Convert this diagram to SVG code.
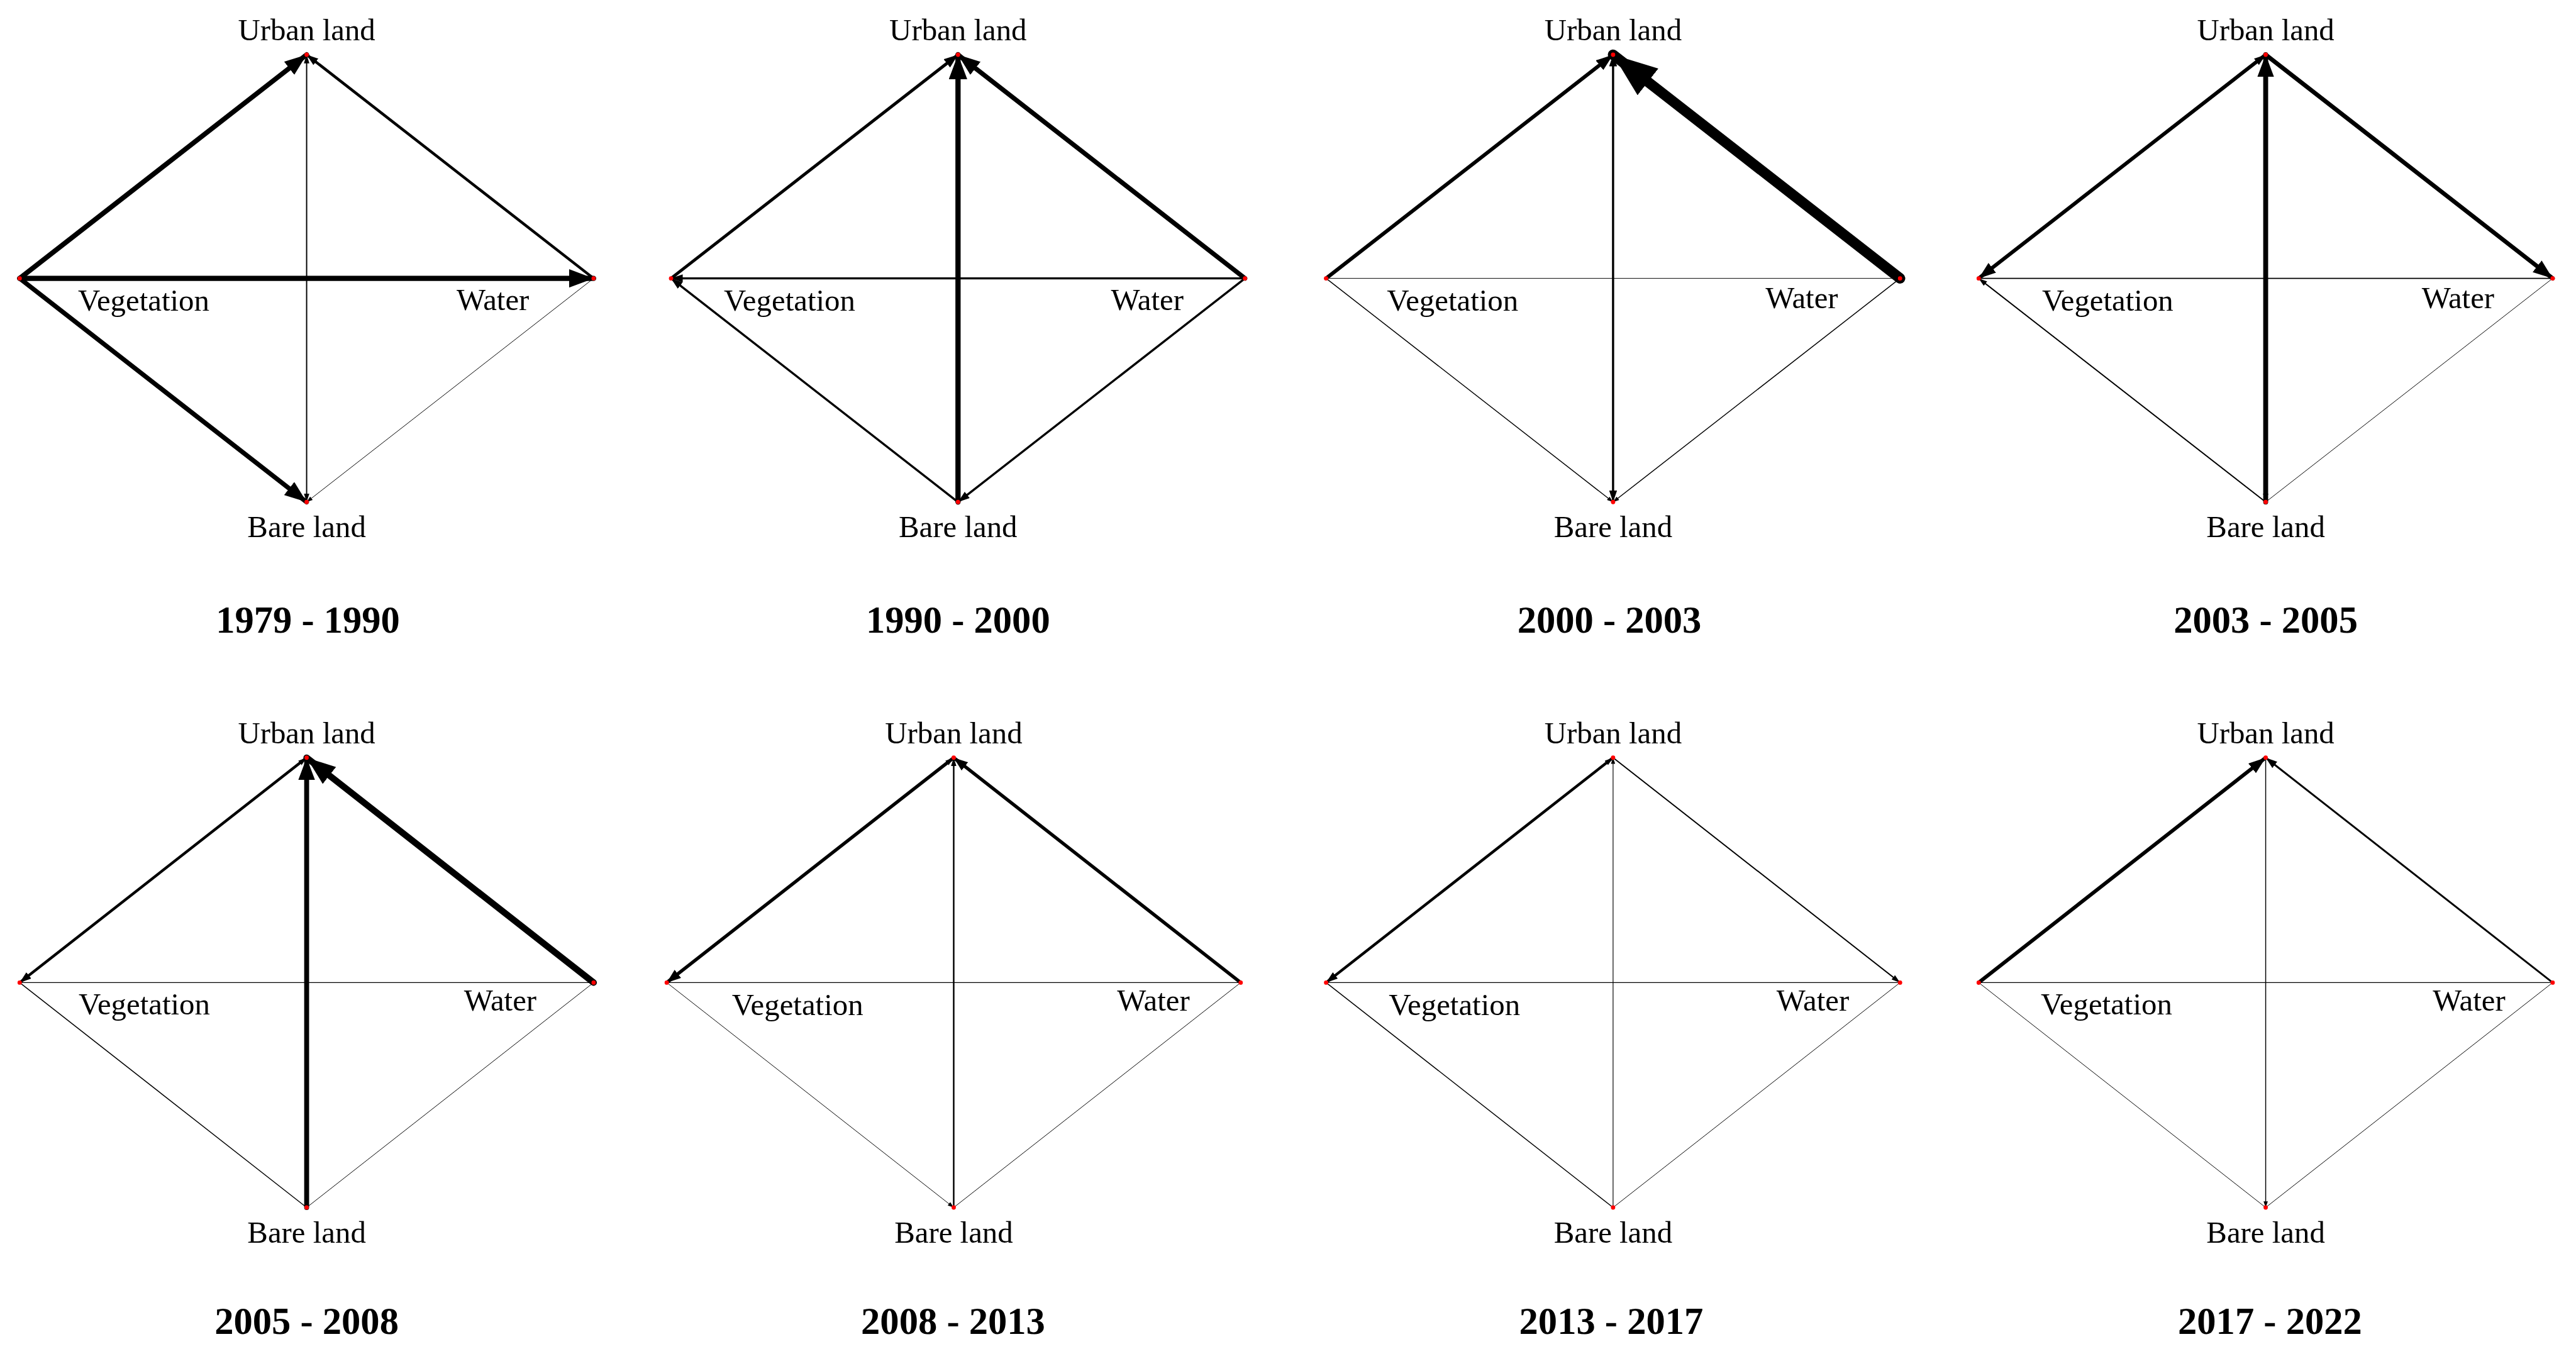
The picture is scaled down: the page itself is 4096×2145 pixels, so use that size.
<svg xmlns="http://www.w3.org/2000/svg" width="4096" height="2145" viewBox="0 0 4096 2145">
<style>
.lbl{font-family:"Liberation Serif","Times New Roman",serif;font-size:50px;fill:#000}
.mid{text-anchor:middle}
.ttl{font-family:"Liberation Serif","Times New Roman",serif;font-size:62px;font-weight:bold;fill:#000;text-anchor:middle}
.dot{fill:#ff0000}
.e line{stroke:#000;fill:none;stroke-linecap:round}
.ah{fill:#000}
</style>
<defs>
<marker id="m1" markerUnits="userSpaceOnUse" markerWidth="10" markerHeight="7" viewBox="0 0 10 7" refX="10" refY="3.5" orient="auto-start-reverse"><path class="ah" d="M0,0 L10,3.5 L0,7 z"/></marker>
<marker id="m2" markerUnits="userSpaceOnUse" markerWidth="14" markerHeight="9" viewBox="0 0 14 9" refX="14" refY="4.5" orient="auto-start-reverse"><path class="ah" d="M0,0 L14,4.5 L0,9 z"/></marker>
<marker id="m3" markerUnits="userSpaceOnUse" markerWidth="19" markerHeight="13" viewBox="0 0 19 13" refX="19" refY="6.5" orient="auto-start-reverse"><path class="ah" d="M0,0 L19,6.5 L0,13 z"/></marker>
<marker id="m4" markerUnits="userSpaceOnUse" markerWidth="23" markerHeight="17" viewBox="0 0 23 17" refX="23" refY="8.5" orient="auto-start-reverse"><path class="ah" d="M0,0 L23,8.5 L0,17 z"/></marker>
<marker id="m5" markerUnits="userSpaceOnUse" markerWidth="28" markerHeight="20" viewBox="0 0 28 20" refX="28" refY="10" orient="auto-start-reverse"><path class="ah" d="M0,0 L28,10 L0,20 z"/></marker>
<marker id="m6" markerUnits="userSpaceOnUse" markerWidth="32" markerHeight="24" viewBox="0 0 32 24" refX="32" refY="12" orient="auto-start-reverse"><path class="ah" d="M0,0 L32,12 L0,24 z"/></marker>
<marker id="m7" markerUnits="userSpaceOnUse" markerWidth="36" markerHeight="27" viewBox="0 0 36 27" refX="36" refY="13.5" orient="auto-start-reverse"><path class="ah" d="M0,0 L36,13.5 L0,27 z"/></marker>
<marker id="m8" markerUnits="userSpaceOnUse" markerWidth="40" markerHeight="30" viewBox="0 0 40 30" refX="40" refY="15" orient="auto-start-reverse"><path class="ah" d="M0,0 L40,15 L0,30 z"/></marker>
<marker id="m10" markerUnits="userSpaceOnUse" markerWidth="47" markerHeight="35" viewBox="0 0 47 35" refX="47" refY="17.5" orient="auto-start-reverse"><path class="ah" d="M0,0 L47,17.5 L0,35 z"/></marker>
<marker id="m17" markerUnits="userSpaceOnUse" markerWidth="72" markerHeight="55" viewBox="0 0 72 55" refX="72" refY="27.5" orient="auto-start-reverse"><path class="ah" d="M0,0 L72,27.5 L0,55 z"/></marker>
</defs>
<rect width="4096" height="2145" fill="#fff"/>
<g transform="scale(0.9771)">

<g id="connectors" class="e">
 <g id="c-1979-1990">
  <line x1="32" y1="453" x2="499" y2="89" stroke-width="8" marker-end="url(#m7)"/>
  <line x1="966" y1="453" x2="499" y2="89" stroke-width="4.5" marker-end="url(#m3)"/>
  <line x1="499" y1="89" x2="499" y2="817" stroke-width="2" marker-start="url(#m2)" marker-end="url(#m2)"/>
  <line x1="32" y1="453" x2="966" y2="453" stroke-width="8.5" marker-end="url(#m8)"/>
  <line x1="32" y1="453" x2="499" y2="817" stroke-width="7.5" marker-end="url(#m7)"/>
  <line x1="966" y1="453" x2="499" y2="817" stroke-width="1" marker-end="url(#m1)"/>
 </g>
 <g id="c-1990-2000">
  <line x1="1092" y1="453" x2="1559" y2="89" stroke-width="5" marker-end="url(#m4)"/>
  <line x1="2026" y1="453" x2="1559" y2="89" stroke-width="7.5" marker-end="url(#m7)"/>
  <line x1="1559" y1="817" x2="1559" y2="89" stroke-width="8.5" marker-end="url(#m8)"/>
  <line x1="2026" y1="453" x2="1092" y2="453" stroke-width="3.5" marker-end="url(#m3)"/>
  <line x1="1559" y1="817" x2="1092" y2="453" stroke-width="3.5" marker-end="url(#m3)"/>
  <line x1="2026" y1="453" x2="1559" y2="817" stroke-width="3.5" marker-end="url(#m3)"/>
 </g>
 <g id="c-2000-2003">
  <line x1="2158" y1="453" x2="2625" y2="89" stroke-width="6" marker-end="url(#m5)"/>
  <line x1="3092" y1="453" x2="2625" y2="89" stroke-width="17" marker-end="url(#m17)"/>
  <line x1="2625" y1="89" x2="2625" y2="817" stroke-width="3.5" marker-start="url(#m3)" marker-end="url(#m3)"/>
  <line x1="2158" y1="453" x2="3092" y2="453" stroke-width="1"/>
  <line x1="2158" y1="453" x2="2625" y2="817" stroke-width="1.5" marker-end="url(#m1)"/>
  <line x1="3092" y1="453" x2="2625" y2="817" stroke-width="1.5" marker-end="url(#m1)"/>
 </g>
 <g id="c-2003-2005">
  <line x1="3687" y1="89" x2="3220" y2="453" stroke-width="6" marker-start="url(#m3)" marker-end="url(#m5)"/>
  <line x1="3687" y1="89" x2="4154" y2="453" stroke-width="7" marker-end="url(#m6)"/>
  <line x1="3687" y1="817" x2="3687" y2="89" stroke-width="8" marker-start="url(#m2)" marker-end="url(#m7)"/>
  <line x1="3220" y1="453" x2="4154" y2="453" stroke-width="2"/>
  <line x1="3687" y1="817" x2="3220" y2="453" stroke-width="2" marker-end="url(#m2)"/>
  <line x1="4154" y1="453" x2="3687" y2="817" stroke-width="1"/>
 </g>
 <g id="c-2005-2008">
  <line x1="499" y1="1233" x2="32" y2="1599" stroke-width="4.5" marker-start="url(#m2)" marker-end="url(#m3)"/>
  <line x1="966" y1="1599" x2="499" y2="1233" stroke-width="10.5" marker-end="url(#m10)"/>
  <line x1="499" y1="1965" x2="499" y2="1233" stroke-width="8" marker-end="url(#m7)"/>
  <line x1="32" y1="1599" x2="966" y2="1599" stroke-width="1.5"/>
  <line x1="32" y1="1599" x2="499" y2="1965" stroke-width="1.5"/>
  <line x1="966" y1="1599" x2="499" y2="1965" stroke-width="1"/>
 </g>
 <g id="c-2008-2013">
  <line x1="1552" y1="1233" x2="1085" y2="1599" stroke-width="5.5" marker-start="url(#m2)" marker-end="url(#m4)"/>
  <line x1="2019" y1="1599" x2="1552" y2="1233" stroke-width="5.5" marker-end="url(#m4)"/>
  <line x1="1552" y1="1965" x2="1552" y2="1233" stroke-width="2.5" marker-end="url(#m2)"/>
  <line x1="1085" y1="1599" x2="2019" y2="1599" stroke-width="1.5"/>
  <line x1="1085" y1="1599" x2="1552" y2="1965" stroke-width="1" marker-end="url(#m1)"/>
  <line x1="2019" y1="1599" x2="1552" y2="1965" stroke-width="1"/>
 </g>
 <g id="c-2013-2017">
  <line x1="2625" y1="1233" x2="2158" y2="1599" stroke-width="4.5" marker-start="url(#m2)" marker-end="url(#m3)"/>
  <line x1="2625" y1="1233" x2="3092" y2="1599" stroke-width="2" marker-end="url(#m2)"/>
  <line x1="2625" y1="1965" x2="2625" y2="1233" stroke-width="1.2" marker-end="url(#m1)"/>
  <line x1="2158" y1="1599" x2="3092" y2="1599" stroke-width="1.5"/>
  <line x1="2158" y1="1599" x2="2625" y2="1965" stroke-width="1.5"/>
  <line x1="3092" y1="1599" x2="2625" y2="1965" stroke-width="1"/>
 </g>
 <g id="c-2017-2022">
  <line x1="3220" y1="1599" x2="3687" y2="1233" stroke-width="6" marker-end="url(#m5)"/>
  <line x1="4154" y1="1599" x2="3687" y2="1233" stroke-width="3" marker-end="url(#m3)"/>
  <line x1="3687" y1="1233" x2="3687" y2="1965" stroke-width="1.5" marker-end="url(#m1)"/>
  <line x1="3220" y1="1599" x2="4154" y2="1599" stroke-width="1.5"/>
  <line x1="3220" y1="1599" x2="3687" y2="1965" stroke-width="1"/>
  <line x1="4154" y1="1599" x2="3687" y2="1965" stroke-width="1"/>
 </g>
</g>

<g id="panel-1979-1990">
 <g id="p1-urban"><circle class="dot" cx="499" cy="89" r="3.5"/><text class="lbl mid" x="499" y="66">Urban land</text></g>
 <g id="p1-vegetation"><circle class="dot" cx="32" cy="453" r="3.5"/><text class="lbl" x="127" y="506">Vegetation</text></g>
 <g id="p1-water"><circle class="dot" cx="966" cy="453" r="3.5"/><text class="lbl" x="743" y="505">Water</text></g>
 <g id="p1-bare"><circle class="dot" cx="499" cy="817" r="3.5"/><text class="lbl mid" x="499" y="874">Bare land</text></g>
 <text class="ttl" x="501" y="1030">1979 - 1990</text>
</g>
<g id="panel-1990-2000">
 <g id="p2-urban"><circle class="dot" cx="1559" cy="89" r="3.5"/><text class="lbl mid" x="1559" y="66">Urban land</text></g>
 <g id="p2-vegetation"><circle class="dot" cx="1092" cy="453" r="3.5"/><text class="lbl" x="1178" y="506">Vegetation</text></g>
 <g id="p2-water"><circle class="dot" cx="2026" cy="453" r="3.5"/><text class="lbl" x="1808" y="505">Water</text></g>
 <g id="p2-bare"><circle class="dot" cx="1559" cy="817" r="3.5"/><text class="lbl mid" x="1559" y="874">Bare land</text></g>
 <text class="ttl" x="1559" y="1030">1990 - 2000</text>
</g>
<g id="panel-2000-2003">
 <g id="p3-urban"><circle class="dot" cx="2625" cy="89" r="3.5"/><text class="lbl mid" x="2625" y="66">Urban land</text></g>
 <g id="p3-vegetation"><circle class="dot" cx="2158" cy="453" r="3.5"/><text class="lbl" x="2257" y="506">Vegetation</text></g>
 <g id="p3-water"><circle class="dot" cx="3092" cy="453" r="3.5"/><text class="lbl" x="2873" y="501">Water</text></g>
 <g id="p3-bare"><circle class="dot" cx="2625" cy="817" r="3.5"/><text class="lbl mid" x="2625" y="874">Bare land</text></g>
 <text class="ttl" x="2619" y="1030">2000 - 2003</text>
</g>
<g id="panel-2003-2005">
 <g id="p4-urban"><circle class="dot" cx="3687" cy="89" r="3.5"/><text class="lbl mid" x="3687" y="66">Urban land</text></g>
 <g id="p4-vegetation"><circle class="dot" cx="3220" cy="453" r="3.5"/><text class="lbl" x="3323" y="506">Vegetation</text></g>
 <g id="p4-water"><circle class="dot" cx="4154" cy="453" r="3.5"/><text class="lbl" x="3941" y="501">Water</text></g>
 <g id="p4-bare"><circle class="dot" cx="3687" cy="817" r="3.5"/><text class="lbl mid" x="3687" y="874">Bare land</text></g>
 <text class="ttl" x="3687" y="1030">2003 - 2005</text>
</g>
<g id="panel-2005-2008">
 <g id="p5-urban"><circle class="dot" cx="499" cy="1233" r="3.5"/><text class="lbl mid" x="499" y="1210">Urban land</text></g>
 <g id="p5-vegetation"><circle class="dot" cx="32" cy="1599" r="3.5"/><text class="lbl" x="128" y="1651">Vegetation</text></g>
 <g id="p5-water"><circle class="dot" cx="966" cy="1599" r="3.5"/><text class="lbl" x="755" y="1645">Water</text></g>
 <g id="p5-bare"><circle class="dot" cx="499" cy="1965" r="3.5"/><text class="lbl mid" x="499" y="2022">Bare land</text></g>
 <text class="ttl" x="499" y="2171">2005 - 2008</text>
</g>
<g id="panel-2008-2013">
 <g id="p6-urban"><circle class="dot" cx="1552" cy="1233" r="3.5"/><text class="lbl mid" x="1552" y="1210">Urban land</text></g>
 <g id="p6-vegetation"><circle class="dot" cx="1085" cy="1599" r="3.5"/><text class="lbl" x="1191" y="1652">Vegetation</text></g>
 <g id="p6-water"><circle class="dot" cx="2019" cy="1599" r="3.5"/><text class="lbl" x="1818" y="1645">Water</text></g>
 <g id="p6-bare"><circle class="dot" cx="1552" cy="1965" r="3.5"/><text class="lbl mid" x="1552" y="2022">Bare land</text></g>
 <text class="ttl" x="1551" y="2171">2008 - 2013</text>
</g>
<g id="panel-2013-2017">
 <g id="p7-urban"><circle class="dot" cx="2625" cy="1233" r="3.5"/><text class="lbl mid" x="2625" y="1210">Urban land</text></g>
 <g id="p7-vegetation"><circle class="dot" cx="2158" cy="1599" r="3.5"/><text class="lbl" x="2260" y="1652">Vegetation</text></g>
 <g id="p7-water"><circle class="dot" cx="3092" cy="1599" r="3.5"/><text class="lbl" x="2891" y="1645">Water</text></g>
 <g id="p7-bare"><circle class="dot" cx="2625" cy="1965" r="3.5"/><text class="lbl mid" x="2625" y="2022">Bare land</text></g>
 <text class="ttl" x="2622" y="2171">2013 - 2017</text>
</g>
<g id="panel-2017-2022">
 <g id="p8-urban"><circle class="dot" cx="3687" cy="1233" r="3.5"/><text class="lbl mid" x="3687" y="1210">Urban land</text></g>
 <g id="p8-vegetation"><circle class="dot" cx="3220" cy="1599" r="3.5"/><text class="lbl" x="3321" y="1651">Vegetation</text></g>
 <g id="p8-water"><circle class="dot" cx="4154" cy="1599" r="3.5"/><text class="lbl" x="3959" y="1645">Water</text></g>
 <g id="p8-bare"><circle class="dot" cx="3687" cy="1965" r="3.5"/><text class="lbl mid" x="3687" y="2022">Bare land</text></g>
 <text class="ttl" x="3694" y="2171">2017 - 2022</text>
</g>
</g>
</svg>
